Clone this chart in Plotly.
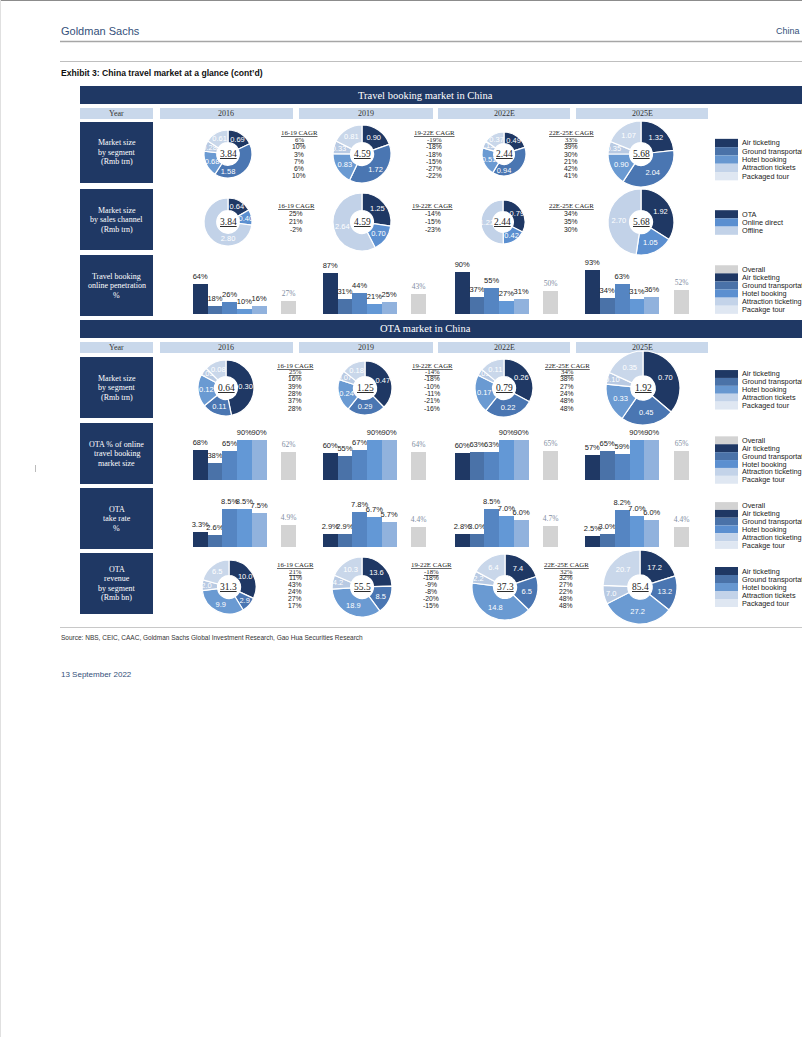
import plotly.graph_objects as go

W, H = 802, 1037

# ---------------- DATA ----------------
YEARS = ["2016", "2019", "2022E", "2025E"]
CAGR_PERIODS = ["16-19 CAGR", "19-22E CAGR", "22E-25E CAGR"]
SEG_LEGEND = ["Air ticketing", "Ground transportation", "Hotel booking", "Attraction tickets", "Packaged tour"]
BAR_LEGEND = ["Overall", "Air ticketing", "Ground transportation", "Hotel booking", "Attraction ticketing", "Pacakge tour"]
CHANNELS = ["OTA", "Online direct", "Offline"]

# Travel booking market size by segment (Rmb trn)
mkt_by_segment = [[0.69, 1.58, 0.68, 0.28, 0.61],
                  [0.90, 1.72, 0.83, 0.33, 0.81],
                  [0.49, 0.94, 0.51, 0.13, 0.37],
                  [1.32, 2.04, 0.90, 0.35, 1.07]]
mkt_by_segment_total = [3.84, 4.59, 2.44, 5.68]
mkt_by_segment_cagr = [[6, 10, 3, 7, 6, 10],
                       [-19, -18, -18, -15, -27, -22],
                       [33, 39, 30, 21, 42, 41]]

# Travel booking market size by sales channel (Rmb trn)
mkt_by_channel = [[0.64, 0.40, 2.80],
                  [1.25, 0.70, 2.64],
                  [0.79, 0.42, 1.22],
                  [1.92, 1.05, 2.70]]
mkt_by_channel_total = [3.84, 4.59, 2.44, 5.68]
mkt_by_channel_cagr = [[25, 21, -2], [-14, -15, -23], [34, 35, 30]]

# Online penetration (%)
online_penetration = [[64, 18, 26, 10, 16],
                      [87, 31, 44, 21, 25],
                      [90, 37, 55, 27, 31],
                      [93, 34, 63, 31, 36]]
online_penetration_overall = [27, 43, 50, 52]

# OTA market size by segment (Rmb trn)
ota_by_segment = [[0.30, 0.11, 0.12, 0.03, 0.08],
                  [0.47, 0.29, 0.24, 0.07, 0.18],
                  [0.26, 0.22, 0.17, 0.03, 0.11],
                  [0.70, 0.45, 0.33, 0.10, 0.35]]
ota_by_segment_total = [0.64, 1.25, 0.79, 1.92]
ota_by_segment_cagr = [[25, 16, 39, 28, 37, 28],
                       [-14, -18, -10, -11, -21, -16],
                       [34, 38, 27, 24, 48, 48]]

# OTA % of online travel booking market size
ota_share = [[68, 38, 65, 90, 90],
             [60, 55, 67, 90, 90],
             [60, 63, 63, 90, 90],
             [57, 65, 59, 90, 90]]
ota_share_overall = [62, 64, 65, 65]

# OTA take rate (%)
ota_take_rate = [[3.3, 2.6, 8.5, 8.5, 7.5],
                 [2.9, 2.9, 7.8, 6.7, 5.7],
                 [2.8, 3.0, 8.5, 7.0, 6.0],
                 [2.5, 3.0, 8.2, 7.0, 6.0]]
ota_take_rate_overall = [4.9, 4.4, 4.7, 4.4]

# OTA revenue by segment (Rmb bn)
ota_revenue = [[10.0, 2.9, 9.9, 2.0, 6.5],
               [13.6, 8.5, 18.9, 4.2, 10.3],
               [7.4, 6.5, 14.8, 2.2, 6.4],
               [17.2, 13.2, 27.2, 7.0, 20.7]]
ota_revenue_total = [31.3, 55.5, 37.3, 85.4]
ota_revenue_cagr = [[21, 11, 43, 24, 27, 17],
                    [-18, -18, -9, -8, -20, -15],
                    [32, 32, 27, 22, 48, 48]]

# ---------------- STYLE ----------------
NAVY = "#1f3864"
YEAR_BG = "#c9d8eb"
SERIF = "Liberation Serif, Times New Roman, serif"
SANS = "Liberation Sans, Arial, sans-serif"
NARROW = "Liberation Sans Narrow, Arial Narrow, Liberation Sans, Arial, sans-serif"
GS_BLUE = "#34507a"

SEG_PIE_COLORS = ["#1f3864", "#4a76b2", "#6a9ad2", "#b8cae3", "#c9d7ea"]
SEG_LEGEND_COLORS = ["#1f3864", "#4a72a8", "#6797d0", "#c3d3e9", "#dfe7f2"]
CHANNEL_COLORS = ["#1f3864", "#5b8fd0", "#c2d2e8"]
BAR_COLORS = ["#1f3864", "#4a72a8", "#5585c2", "#6398d6", "#91b2dd"]
OVERALL_COLOR = "#d3d3d3"
BAR_LEGEND_COLORS = ["#d3d3d3", "#1f3864", "#4a72a8", "#5b8fd0", "#c3d3e9", "#dfe7f2"]


def X(px):
    return px / W


def Y(py):
    return 1 - py / H


shapes = []
annotations = []


def rect(x0, y0, x1, y1, color):
    shapes.append(dict(type="rect", xref="paper", yref="paper", x0=X(x0), x1=X(x1),
                       y0=Y(y1), y1=Y(y0), fillcolor=color, line=dict(width=0), layer="below"))


def hline(x0, x1, y, color, width=1):
    shapes.append(dict(type="line", xref="paper", yref="paper", x0=X(x0), x1=X(x1),
                       y0=Y(y), y1=Y(y), line=dict(color=color, width=width)))


def txt(x, y, s, size, color="#222", family=SANS, xanchor="center", yanchor="middle"):
    annotations.append(dict(x=X(x), y=Y(y), xref="paper", yref="paper", text=s, showarrow=False,
                            font=dict(size=size, color=color, family=family),
                            xanchor=xanchor, yanchor=yanchor, borderpad=0))


fig = go.Figure()

# ---------------- PAGE FRAME / HEADER ----------------
hline(0, W, 0.5, "#8c8c8c", 1)
shapes.append(dict(type="line", xref="paper", yref="paper", x0=X(0.5), x1=X(0.5), y0=0, y1=1,
                   line=dict(color="#e0e0e0", width=1)))
txt(60, 31, "Goldman Sachs", 11, GS_BLUE, NARROW, xanchor="left")
txt(801, 31, "China", 9, GS_BLUE, NARROW, xanchor="right")
hline(60, W, 41.5, "#a6a6a6", 1.5)
hline(60, W, 61.5, "#bfbfbf", 1)
txt(60, 73.5, "<b>Exhibit 3: China travel market at a glance (cont\u2019d)</b>", 8.6, "#111", NARROW, xanchor="left")
hline(60, W, 627.5, "#c8c8c8", 1)
txt(60, 637, "Source: NBS, CEIC, CAAC, Goldman Sachs Global Investment Research, Gao Hua Securities Research",
    6.5, "#333", NARROW, xanchor="left")
txt(60, 674, "13 September 2022", 8, GS_BLUE, NARROW, xanchor="left")
shapes.append(dict(type="line", xref="paper", yref="paper", x0=X(35.5), x1=X(35.5), y0=Y(472), y1=Y(465),
                   line=dict(color="#bbbbbb", width=1)))

# ---------------- TABLE FRAME ----------------
YEAR_BOXES = [(80, 153), (160, 293), (299, 433), (438, 570), (576, 708)]
for (b0, b1), title in [((86, 104), "Travel booking market in China"), ((320, 338), "OTA market in China")]:
    rect(80, b0, W, b1, NAVY)
    txt(425, (b0 + b1) / 2, title, 10.5, "white", SERIF)
for (y0, y1) in [(108, 119), (342, 353)]:
    for (x0, x1), lab in zip(YEAR_BOXES, ["Year"] + YEARS):
        rect(x0, y0, x1, y1, YEAR_BG)
        txt((x0 + x1) / 2, (y0 + y1) / 2, lab, 8, "#333", SERIF)

ROW_LABELS = [
    ((122, 183), ["Market size", "by segment", "(Rmb trn)"]),
    ((189, 250), ["Market size", "by sales channel", "(Rmb trn)"]),
    ((255, 316), ["Travel booking", "online penetration", "%"]),
    ((357, 418), ["Market size", "by segment", "(Rmb trn)"]),
    ((423, 484), ["OTA % of online", "travel booking", "market size"]),
    ((488, 549), ["OTA", "take rate", "%"]),
    ((553, 614), ["OTA", "revenue", "by segment", "(Rmb bn)"]),
]
for (y0, y1), lines in ROW_LABELS:
    rect(80, y0, 153, y1, NAVY)
    yc = (y0 + y1) / 2
    n = len(lines)
    for i, line in enumerate(lines):
        txt(117, yc + (i - (n - 1) / 2) * 9.5, line, 8, "white", SERIF)

# ---------------- DONUTS ----------------
pie_rows = [
    dict(vals=mkt_by_segment, totals=mkt_by_segment_total, colors=SEG_PIE_COLORS, fmt="{:.2f}", tfmt="{:.2f}",
         cy=154, cx=[228, 362, 504, 641], r=[24, 29, 22, 33]),
    dict(vals=mkt_by_channel, totals=mkt_by_channel_total, colors=CHANNEL_COLORS, fmt="{:.2f}", tfmt="{:.2f}",
         cy=222, cx=[228, 362, 503, 641], r=[24, 29, 22, 33]),
    dict(vals=ota_by_segment, totals=ota_by_segment_total, colors=SEG_PIE_COLORS, fmt="{:.2f}", tfmt="{:.2f}",
         cy=388, cx=[226, 365, 504, 643], r=[28, 27, 29, 37]),
    dict(vals=ota_revenue, totals=ota_revenue_total, colors=SEG_PIE_COLORS, fmt="{:.1f}", tfmt="{:.1f}",
         cy=587, cx=[229, 362, 505, 640], r=[27, 30, 33, 37]),
]
for pr in pie_rows:
    for yi in range(4):
        vals = pr["vals"][yi]
        cx, cy, r = pr["cx"][yi], pr["cy"], pr["r"][yi]
        hole = max(0.33, min(0.47, 11.5 / r))
        fig.add_trace(go.Pie(
            values=vals, labels=[f"s{k}" for k in range(len(vals))],
            text=[pr["fmt"].format(v) for v in vals], textinfo="text",
            textposition="inside", insidetextorientation="horizontal",
            textfont=dict(color="white", size=7.5, family=SANS),
            marker=dict(colors=pr["colors"], line=dict(color="white", width=1.2)),
            hole=hole, sort=False, direction="clockwise", rotation=0,
            domain=dict(x=[X(cx - r), X(cx + r)], y=[Y(cy + r), Y(cy - r)]),
            showlegend=False, hoverinfo="skip"))
        txt(cx, cy, "<u>" + pr["tfmt"].format(pr["totals"][yi]) + "</u>", 9.5, "#222", SERIF)

# ---------------- CAGR BLOCKS ----------------
cagr_blocks = [
    dict(vals=mkt_by_segment_cagr, total=True, x=[299, 434, 571], yh=132.5, y0=139.5, step=7.3),
    dict(vals=mkt_by_channel_cagr, total=False, x=[296, 433, 571], yh=205, y0=214, step=7.5),
    dict(vals=ota_by_segment_cagr, total=True, x=[295, 432, 567], yh=365, y0=371.5, step=7.3),
    dict(vals=ota_revenue_cagr, total=True, x=[295, 431, 566], yh=564, y0=571, step=6.9),
]
for cb in cagr_blocks:
    for pi, period in enumerate(CAGR_PERIODS):
        x = cb["x"][pi]
        txt(x, cb["yh"], "<u>" + period + "</u>", 6.8, "#222", SERIF)
        for k, v in enumerate(cb["vals"][pi]):
            s = f"{v}%"
            if cb["total"] and k == 0:
                txt(x, cb["y0"], "<u>" + s + "</u>", 6.8, "#222", SERIF)
            else:
                txt(x, cb["y0"] + k * cb["step"], s, 6.8, "#222", SANS)

# ---------------- BAR GROUPS ----------------
BAR_X_DOMAINS = [(193, 296), (323, 426), (455, 558), (585, 689)]
bar_rows = [
    dict(vals=online_penetration, overall=online_penetration_overall, base=314, top=267, ymax=100,
         fmt="{:d}%"),
    dict(vals=ota_share, overall=ota_share_overall, base=480, top=435.6, ymax=100, fmt="{:d}%"),
    dict(vals=ota_take_rate, overall=ota_take_rate_overall, base=547, top=502.3, ymax=10, fmt="{:.1f}%"),
]
layout_axes = {}
ax = 0
for br in bar_rows:
    for yi in range(4):
        ax += 1
        xn = "x" if ax == 1 else f"x{ax}"
        yn = "y" if ax == 1 else f"y{ax}"
        xkey = "xaxis" if ax == 1 else f"xaxis{ax}"
        ykey = "yaxis" if ax == 1 else f"yaxis{ax}"
        d0, d1 = BAR_X_DOMAINS[yi]
        layout_axes[xkey] = dict(domain=[X(d0), X(d1)], range=[-0.5, 6.5], visible=False,
                                 fixedrange=True, anchor=yn)
        layout_axes[ykey] = dict(domain=[Y(br["base"]), Y(br["top"])], range=[0, br["ymax"]],
                                 visible=False, fixedrange=True, anchor=xn)
        vals = br["vals"][yi]
        fig.add_trace(go.Bar(
            x=list(range(len(vals))), y=vals, width=1, marker=dict(color=BAR_COLORS, line=dict(width=0)),
            text=[br["fmt"].format(v) for v in vals], textposition="outside", cliponaxis=False,
            constraintext="none", textfont=dict(size=6.7, color="#222", family=SANS),
            xaxis=xn, yaxis=yn, showlegend=False, hoverinfo="skip"))
        ov = br["overall"][yi]
        fig.add_trace(go.Bar(
            x=[len(vals) + 1], y=[ov], width=1, marker=dict(color=OVERALL_COLOR, line=dict(width=0)),
            text=[br["fmt"].format(ov)], textposition="outside", cliponaxis=False,
            constraintext="none", textfont=dict(size=6.6, color="#7f8ea3", family=SERIF),
            xaxis=xn, yaxis=yn, showlegend=False, hoverinfo="skip"))

# ---------------- LEGENDS ----------------
legends = [
    (SEG_LEGEND, SEG_LEGEND_COLORS, 143, 8.3),
    (CHANNELS, CHANNEL_COLORS, 214.3, 8.2),
    (BAR_LEGEND, BAR_LEGEND_COLORS, 269.3, 8.1),
    (SEG_LEGEND, SEG_LEGEND_COLORS, 374, 7.9),
    (BAR_LEGEND, BAR_LEGEND_COLORS, 440.3, 7.9),
    (BAR_LEGEND, BAR_LEGEND_COLORS, 506, 7.8),
    (SEG_LEGEND, SEG_LEGEND_COLORS, 571, 8.0),
]
for names, cols, y0, step in legends:
    for k, (nm, c) in enumerate(zip(names, cols)):
        yc = y0 + k * step
        rect(715, yc - step / 2, 738, yc + step / 2, c)
        txt(741, yc, nm, 7.3, "#222", SANS, xanchor="left")

fig.update_layout(
    width=W, height=H, margin=dict(l=0, r=0, t=0, b=0),
    paper_bgcolor="white", plot_bgcolor="rgba(0,0,0,0)",
    barmode="overlay", bargap=0, showlegend=False,
    uniformtext=dict(minsize=7.5, mode="show"),
    shapes=shapes, annotations=annotations,
    **layout_axes,
)
fig.write_html("out.html", config={"displayModeBar": False, "staticPlot": True},
               post_script="document.body.style.margin='0px';document.body.style.overflow='hidden';")
